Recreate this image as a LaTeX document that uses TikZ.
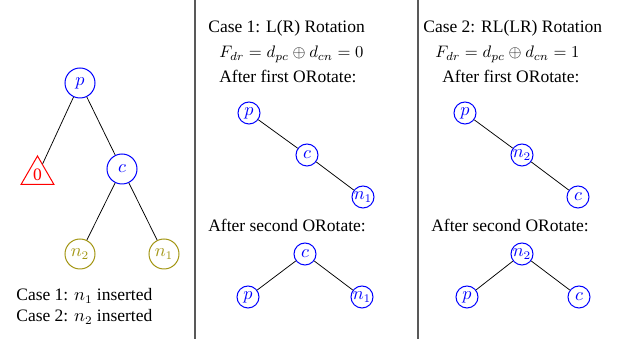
\documentclass[tikz,border=0pt]{standalone}
\usepackage{fontspec}
\setmainfont{Liberation Serif}
\usetikzlibrary{shapes.geometric}
\definecolor{leafcol}{rgb}{0.64,0.59,0.08}
\begin{document}
\begin{tikzpicture}[x=0.6pt,y=-0.6pt,
  every node/.style={font=\fontsize{10.5}{12.6}\selectfont},
  bignode/.style={circle,draw=blue,text=blue,minimum size=18pt,inner sep=0pt,line width=0.6pt},
  leafnode/.style={circle,draw=leafcol,text=leafcol,minimum size=18pt,inner sep=0pt,line width=0.6pt},
  smallnode/.style={circle,draw=blue,text=blue,minimum size=13.2pt,inner sep=0pt,line width=0.6pt},
  treeedge/.style={draw=black,line width=0.45pt},
  separator/.style={draw=black!65,line width=0.9pt},
  lbl/.style={anchor=base west,inner sep=0pt},
  formula/.style={lbl,font=\fontsize{10}{12}\selectfont}]
\useasboundingbox (0,0) rectangle (619,343);

% column separators
\coordinate (s1top) at (195,0);
\coordinate (s1bot) at (195,339);
\coordinate (s2top) at (418,0);
\coordinate (s2bot) at (418,339);
\draw[separator] (s1top) -- (s1bot);
\draw[separator] (s2top) -- (s2bot);

% initial tree
\node[bignode] (p0) at (80,83) {$p$};
\node[regular polygon,regular polygon sides=3,draw=red,text=red,minimum size=22.8pt,inner sep=0pt,line width=0.6pt] (z0) at (37.5,175) {0};
\node[bignode] (c0) at (122,169) {$c$};
\node[leafnode] (na0) at (80,254) {$n_2$};
\node[leafnode] (nb0) at (164,254) {$n_1$};
\draw[treeedge] (p0) -- (z0);
\draw[treeedge] (p0) -- (c0);
\draw[treeedge] (c0) -- (na0);
\draw[treeedge] (c0) -- (nb0);
\node[lbl] (t1) at (16,301) {Case 1: $n_1$ inserted};
\node[lbl] (t2) at (16,322) {Case 2: $n_2$ inserted};

% case 1
\node[lbl] (h1) at (208,33) {Case 1: L(R) Rotation};
\node[formula] (f1) at (219,58) {$F_{dr}=d_{pc}\oplus d_{cn}=0$};
\node[lbl] (a1) at (219,83) {After first ORotate:};
\node[smallnode] (p1) at (249,113) {$p$};
\node[smallnode] (c1) at (307,155) {$c$};
\node[smallnode] (n1) at (363,197) {$n_1$};
\draw[treeedge] (p1) -- (c1);
\draw[treeedge] (c1) -- (n1);
\node[lbl] (b1) at (208,232) {After second ORotate:};
\node[smallnode] (c2) at (305,254) {$c$};
\node[smallnode] (p2) at (248,297) {$p$};
\node[smallnode] (n2) at (362,297) {$n_1$};
\draw[treeedge] (c2) -- (p2);
\draw[treeedge] (c2) -- (n2);

% case 2
\node[lbl] (h2) at (423,33) {Case 2: RL(LR) Rotation};
\node[formula] (f2) at (435,58) {$F_{dr}=d_{pc}\oplus d_{cn}=1$};
\node[lbl] (a2) at (442,83) {After first ORotate:};
\node[smallnode] (p3) at (465,113) {$p$};
\node[smallnode] (m3) at (522,155) {$n_2$};
\node[smallnode] (c3) at (578,197) {$c$};
\draw[treeedge] (p3) -- (m3);
\draw[treeedge] (m3) -- (c3);
\node[lbl] (b2) at (431,232) {After second ORotate:};
\node[smallnode] (m4) at (522,254) {$n_2$};
\node[smallnode] (p4) at (467,297) {$p$};
\node[smallnode] (c4) at (579,297) {$c$};
\draw[treeedge] (m4) -- (p4);
\draw[treeedge] (m4) -- (c4);
\end{tikzpicture}
\end{document}
